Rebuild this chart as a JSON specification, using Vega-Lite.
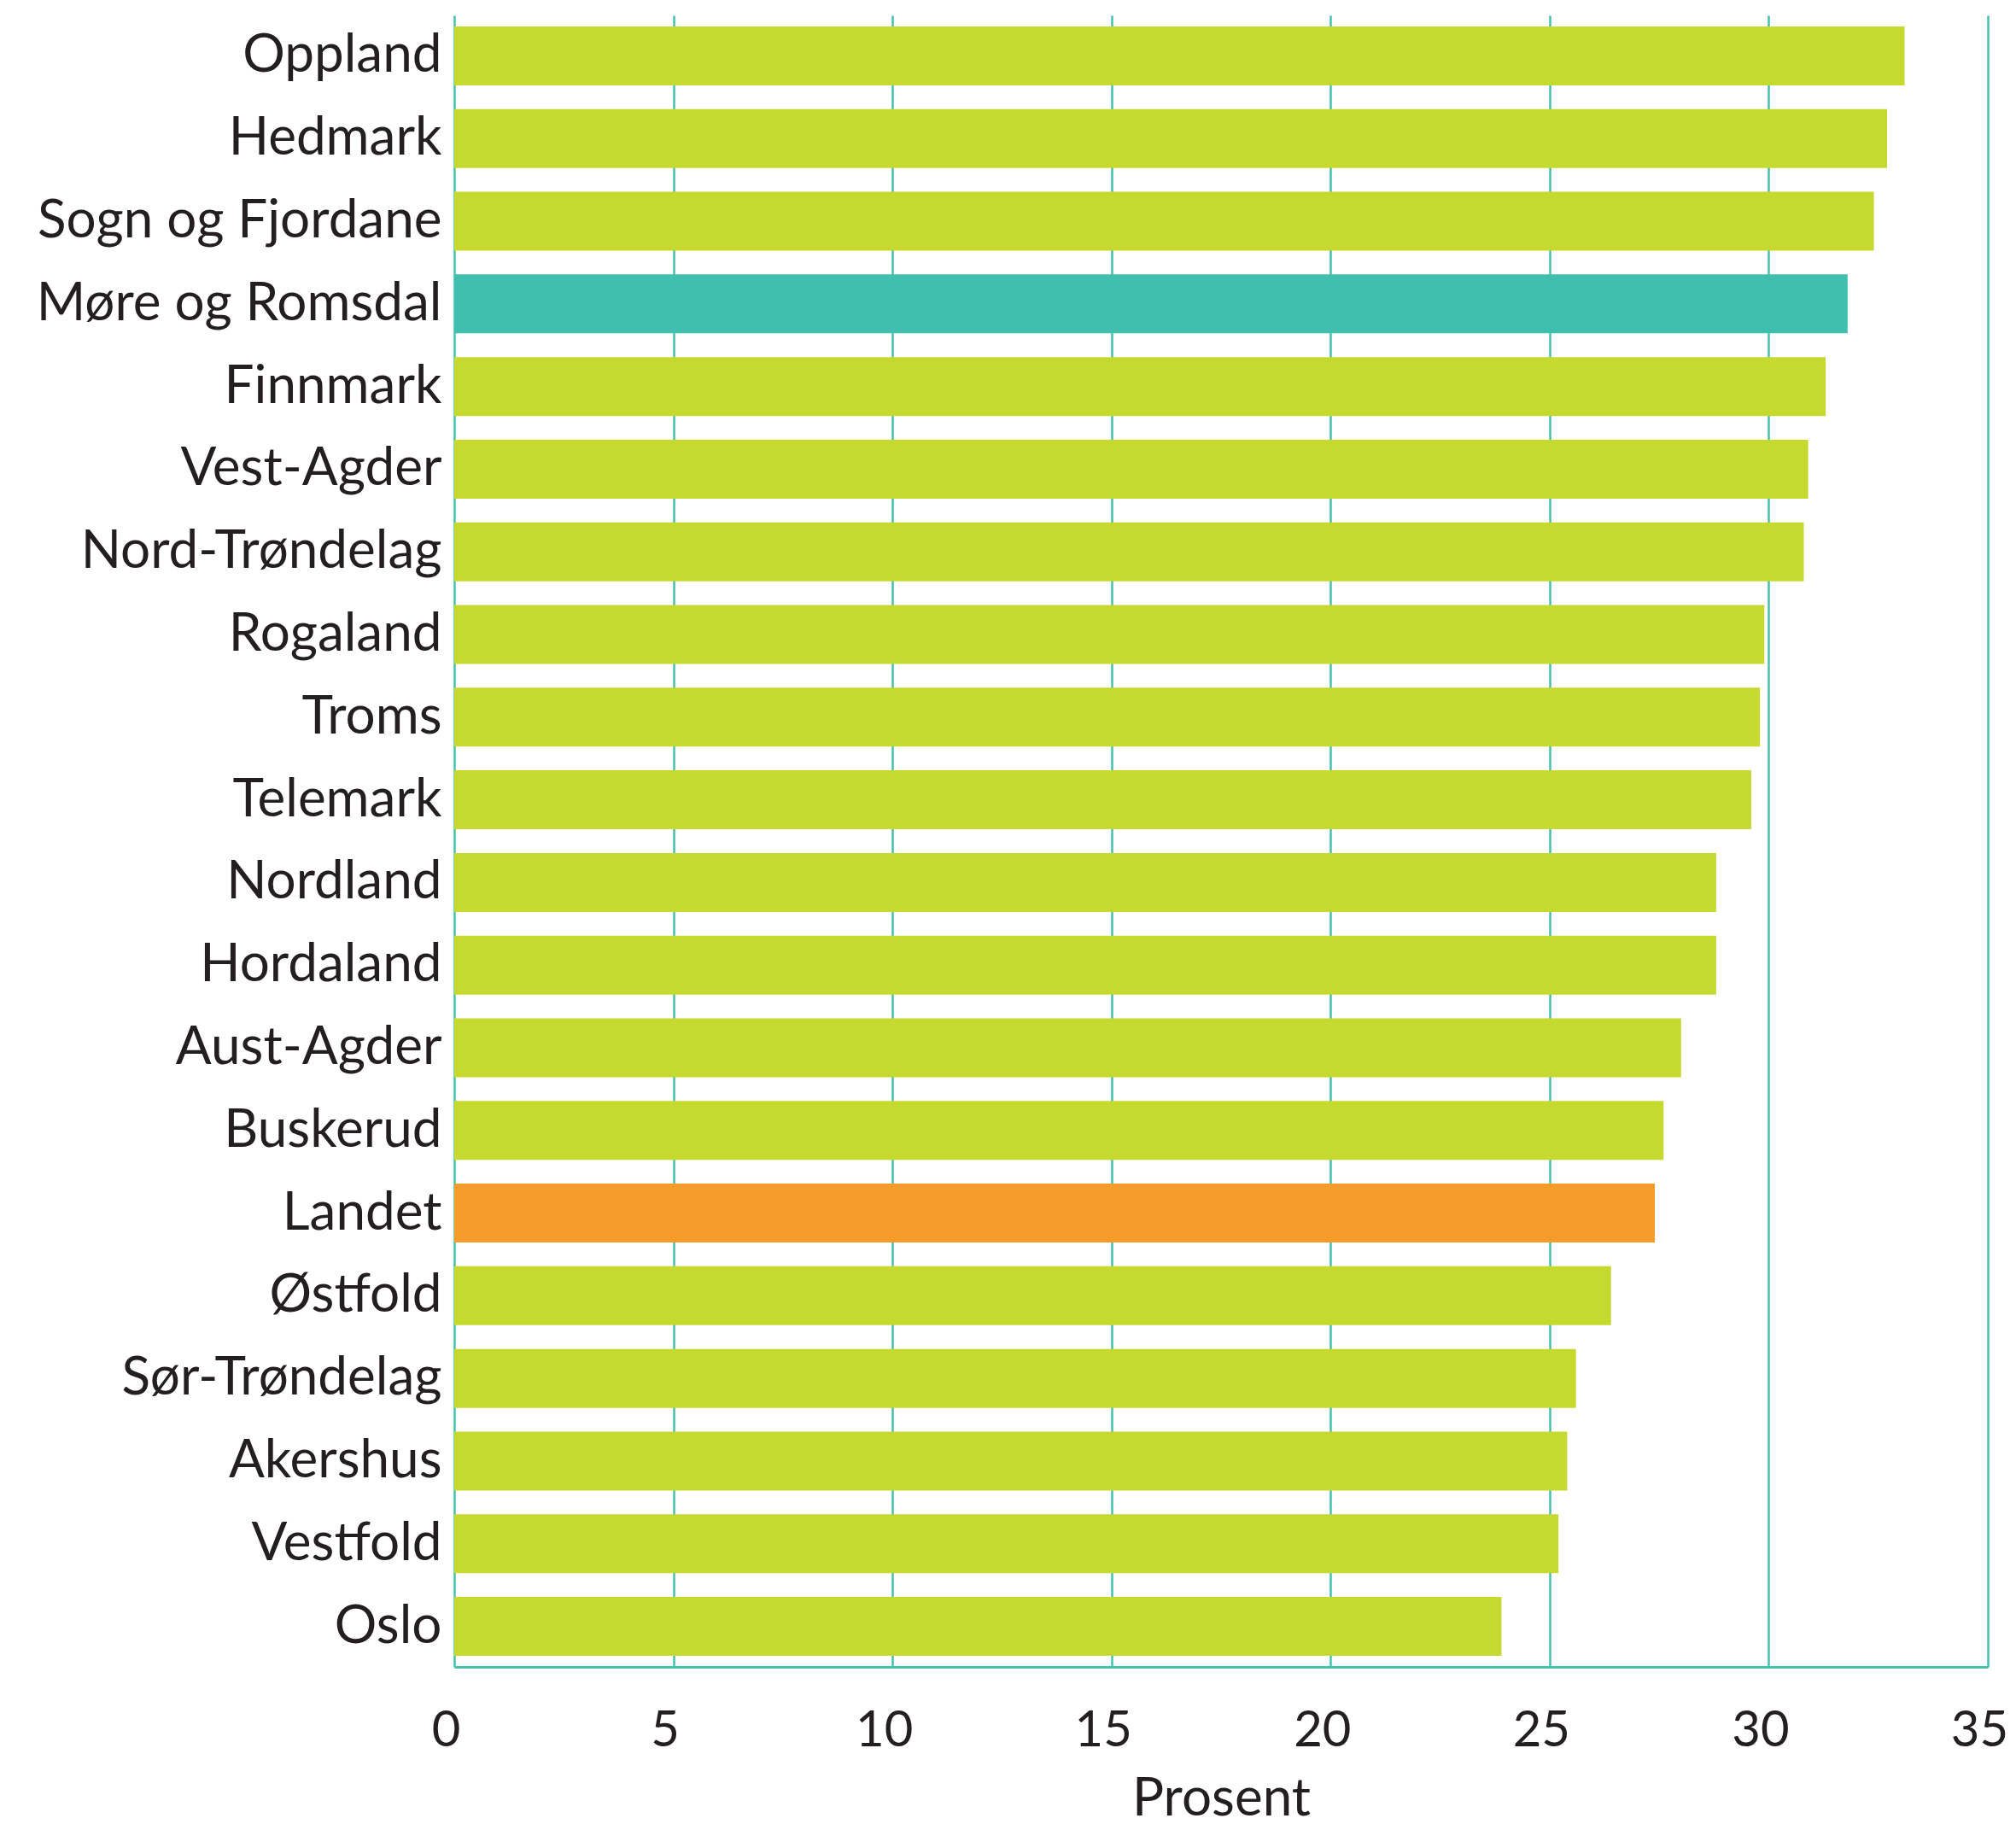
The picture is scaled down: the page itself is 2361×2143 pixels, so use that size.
{
  "$schema": "https://vega.github.io/schema/vega-lite/v6.json",
  "autosize": {"type": "none"},
  "padding": {"left": 532, "top": 18, "right": 33, "bottom": 191},
  "width": 1796,
  "height": 1934,
  "background": "white",
  "config": {"view": {"stroke": null}},
  "data": {
    "values": [
      {"fylke": "Oppland", "prosent": 33.1, "gruppe": "fylke"},
      {"fylke": "Hedmark", "prosent": 32.7, "gruppe": "fylke"},
      {"fylke": "Sogn og Fjordane", "prosent": 32.4, "gruppe": "fylke"},
      {"fylke": "Møre og Romsdal", "prosent": 31.8, "gruppe": "mr"},
      {"fylke": "Finnmark", "prosent": 31.3, "gruppe": "fylke"},
      {"fylke": "Vest-Agder", "prosent": 30.9, "gruppe": "fylke"},
      {"fylke": "Nord-Trøndelag", "prosent": 30.8, "gruppe": "fylke"},
      {"fylke": "Rogaland", "prosent": 29.9, "gruppe": "fylke"},
      {"fylke": "Troms", "prosent": 29.8, "gruppe": "fylke"},
      {"fylke": "Telemark", "prosent": 29.6, "gruppe": "fylke"},
      {"fylke": "Nordland", "prosent": 28.8, "gruppe": "fylke"},
      {"fylke": "Hordaland", "prosent": 28.8, "gruppe": "fylke"},
      {"fylke": "Aust-Agder", "prosent": 28.0, "gruppe": "fylke"},
      {"fylke": "Buskerud", "prosent": 27.6, "gruppe": "fylke"},
      {"fylke": "Landet", "prosent": 27.4, "gruppe": "landet"},
      {"fylke": "Østfold", "prosent": 26.4, "gruppe": "fylke"},
      {"fylke": "Sør-Trøndelag", "prosent": 25.6, "gruppe": "fylke"},
      {"fylke": "Akershus", "prosent": 25.4, "gruppe": "fylke"},
      {"fylke": "Vestfold", "prosent": 25.2, "gruppe": "fylke"},
      {"fylke": "Oslo", "prosent": 23.9, "gruppe": "fylke"}
    ]
  },
  "mark": {"type": "bar"},
  "encoding": {
    "y": {
      "field": "fylke",
      "type": "nominal",
      "sort": null,
      "scale": {"paddingInner": 0.287, "paddingOuter": 0.134},
      "axis": {
        "title": null,
        "domain": false,
        "ticks": false,
        "grid": false,
        "labelFont": "Lato",
        "labelFontSize": 62,
        "labelColor": "#231f20",
        "labelPadding": 15,
        "labelLimit": 600
      }
    },
    "x": {
      "field": "prosent",
      "type": "quantitative",
      "scale": {"domain": [0, 35], "nice": false},
      "axis": {
        "title": "Prosent",
        "values": [0, 5, 10, 15, 20, 25, 30, 35],
        "grid": true,
        "gridColor": "#45c0ae",
        "gridWidth": 2.5,
        "gridOpacity": 1,
        "domain": true,
        "domainColor": "#45c0ae",
        "domainWidth": 3,
        "ticks": false,
        "labelFont": "Lato",
        "labelFontSize": 58,
        "labelColor": "#231f20",
        "labelPadding": 46,
        "labelOffset": -10,
        "labelFlush": false,
        "titleFont": "Lato",
        "titleFontSize": 62,
        "titleFontWeight": "normal",
        "titleColor": "#231f20",
        "titlePadding": 20
      }
    },
    "color": {
      "field": "gruppe",
      "type": "nominal",
      "scale": {"domain": ["fylke", "mr", "landet"], "range": ["#c5d92f", "#40bfae", "#f69c2a"]},
      "legend": null
    }
  }
}
